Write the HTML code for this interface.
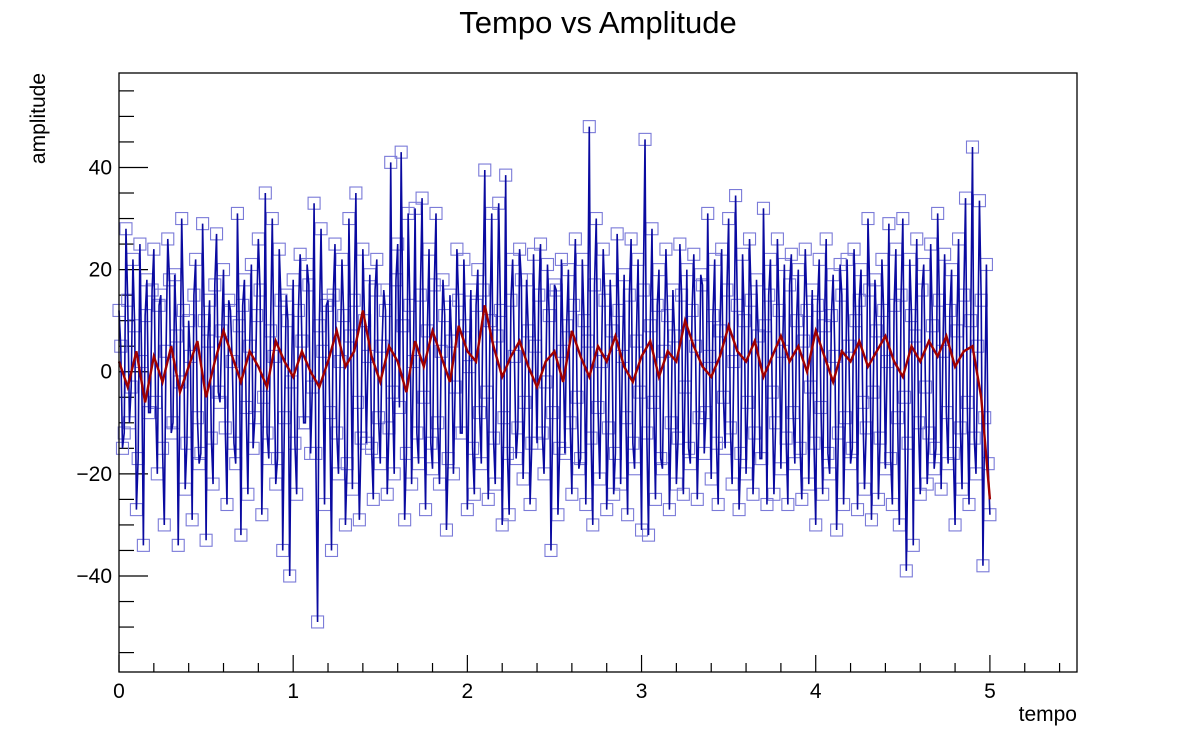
<!DOCTYPE html>
<html><head><meta charset="utf-8"><style>
html,body{margin:0;padding:0;background:#fff;}
svg{display:block;font-family:"Liberation Sans",Arial,sans-serif;}
</style></head><body>
<svg id="chart" width="1198" height="748" viewBox="0 0 1198 748" xmlns="http://www.w3.org/2000/svg">
<text x="598" y="33" text-anchor="middle" font-size="31">Tempo vs Amplitude</text>
<text transform="translate(45,73) rotate(-90)" text-anchor="end" font-size="21">amplitude</text>
<text x="1077" y="721" text-anchor="end" font-size="21">tempo</text>
<g id="axes"></g>
<g id="plot"></g>
<rect x="119" y="73" width="958" height="599" fill="none" stroke="#000" stroke-width="1.3"/>
</svg>
<script>
const xTicks=[0,1,2,3,4,5];
const yTicks=[-40,-20,0,20,40];
const dt=0.02;
const amplitude=[12,-15,28,-10,22,-27,25,-34,18,-8,
24,-20,15,-30,26,-12,19,-34,30,-23,
10,-29,22,-18,29,-33,14,-22,27,-6,
20,-26,12,-14,31,-32,18,-24,21,-9,
26,-28,35,-17,30,-22,24,-35,15,-40,
18,-24,23,-10,21,-16,33,-49,28,-26,
14,-35,25,-20,22,-30,30,-23,35,-29,
24,-14,19,-25,22,-18,16,-24,41,-20,
25,43,-29,31,-22,32,-18,34,-27,24,
-19,31,-22,18,-31,15,-20,24,-12,22,
-27,16,-24,20,-18,39.5,-25,31,-22,33,
-30,38.5,-28,22,-17,24,-21,18,-26,23,
-14,25,-20,21,-35,17,-28,22,-16,20,
-24,26,-19,22,-26,48,-30,30,-21,24,
-27,18,-24,27,-22,19,-28,26,-19,22,
-31,45.5,-32,28,-25,20,-19,24,-27,16,
-22,25,-24,20,-18,23,-25,19,-16,31,
-21,22,-26,24,-15,30,-22,34.5,-27,23,
-20,26,-24,18,-17,32,-26,22,-24,26,
-19,21,-26,23,-18,20,-25,24,-22,16,
-30,22,-24,26,-20,19,-31,21,-26,22,
-18,24,-27,20,-23,30,-29,18,-25,22,
-19,29,-26,24,-30,30,-39,22,-34,26,
-24,21,-22,25,-19,31,-23,23,-18,20,
-30,26,-23,34,-26,44,-20,33.5,-38,21,
-28];
// samples taken halfway between the ones above
const amplitudeMid=[5,-12,14,-3,9,-17,2,11,-8,16,
-6,13,-15,4,18,-10,7,-2,12,-14,
3,15,-9,-16,10,6,-13,17,-4,8,
-11,14,2,-18,9,13,-7,5,-15,11,
16,-5,-12,8,3,-17,14,-9,10,-2,
-14,12,6,-10,17,-3,-16,9,4,13,
-8,15,-12,2,11,-18,7,14,-6,-13,
10,3,-15,16,-9,5,12,-11,-4,18,
-7,9,-16,13,2,-12,15,-5,8,-14,
17,-10,4,11,-17,6,-3,14,-12,9,
1,-15,13,-8,16,-4,10,-13,7,12,
-9,-16,14,3,-11,18,-6,8,-14,5,
15,-12,-2,11,-8,16,-15,4,9,-10,
13,-5,-17,10,6,-13,17,-7,2,14,
-11,8,-16,12,3,-9,15,-14,6,-4,
16,-12,9,-6,13,-17,4,11,-10,7,
-13,15,-3,-15,12,5,-9,17,-8,3,
11,-14,8,-5,16,-11,2,13,-16,10,
-6,14,-12,7,-17,9,15,-4,-10,12,
4,-13,17,-8,10,-15,6,12,-3,-14,
13,-7,9,-16,11,3,-12,15,-9,5,
-15,10,14,-6,-11,16,-4,8,-13,12,
2,-17,13,-9,15,-5,-14,11,7,-10,
16,-3,-12,9,-15,14,4,-8,12,-16,
8,-11,15,-6,10,-13,5,14,-9,-18];
const dtSmooth=0.05;
const smoothed=[2,-3,4,-6,3,-2,5,-4,1,6,
-5,2,8,3,-2,4,1,-3,6,2,
-1,4,0,-3,2,8,1,4,12,3,
-2,5,2,-4,6,1,8,3,-2,9,
4,2,13,5,-1,3,6,1,-3,2,
4,-2,8,3,-1,5,2,7,1,-2,
3,6,-1,4,2,10,5,1,-1,3,
9,4,2,6,-1,3,7,2,5,0,
8,3,-2,4,2,6,1,4,7,2,
-1,5,2,6,3,7,1,4,5,-5,
-25];
const NS='http://www.w3.org/2000/svg';
const X0=119,X1=1077,Y0=73,Y1=672,XMIN=0,XMAX=5.5,YMIN=-58.8,YMAX=58.5;
function sx(v){return X0+(v-XMIN)/(XMAX-XMIN)*(X1-X0);}
function sy(v){return Y1-(v-YMIN)/(YMAX-YMIN)*(Y1-Y0);}
function mk(tag,attrs,parent){const e=document.createElementNS(NS,tag);for(const k in attrs)e.setAttribute(k,attrs[k]);parent.appendChild(e);return e;}
const axes=document.getElementById('axes'),plot=document.getElementById('plot');
for(let i=0;i<=27;i++){const v=i*0.2;const x=sx(v);const major=(i%5===0);
 const t=mk('line',{x1:x,x2:x,y1:Y1,y2:Y1-(major?17:9),stroke:'#000','stroke-width':1.2},axes);
 
 }
xTicks.forEach(v=>{const t=mk('text',{x:sx(v),y:698,'text-anchor':'middle','font-size':21},axes);t.textContent=v;
 
 });
for(let v=-55;v<=55;v+=5){const y=sy(v);const major=(v%20===0);
 const t=mk('line',{x1:X0,x2:X0+(major?29:15),y1:y,y2:y,stroke:'#000','stroke-width':1.2},axes);
 
 }
yTicks.forEach(v=>{const t=mk('text',{x:112,y:sy(v)+7,'text-anchor':'end','font-size':21},axes);t.textContent=(v<0?'\u2212'+(-v):v);
 
 });
// merge the two sample sets into one time-ordered series
const series=[];
amplitude.forEach((v,i)=>{series.push([i*dt,v]);if(i<amplitudeMid.length)series.push([i*dt+dt/2,amplitudeMid[i]]);});
series.forEach(p=>{const r=mk('rect',{x:sx(p[0])-6,y:sy(p[1])-6,width:12,height:12,fill:'none',stroke:'#7a7ad8','stroke-width':1.1},plot);
 
 });
const bl=mk('polyline',{points:series.map(p=>sx(p[0])+','+sy(p[1])).join(' '),fill:'none',stroke:'#0a0aa0','stroke-width':1.6},plot);


const rl=mk('polyline',{points:smoothed.map((v,i)=>sx(i*dtSmooth)+','+sy(v)).join(' '),fill:'none',stroke:'#a00000','stroke-width':2.4},plot);


</script>
</body></html>
